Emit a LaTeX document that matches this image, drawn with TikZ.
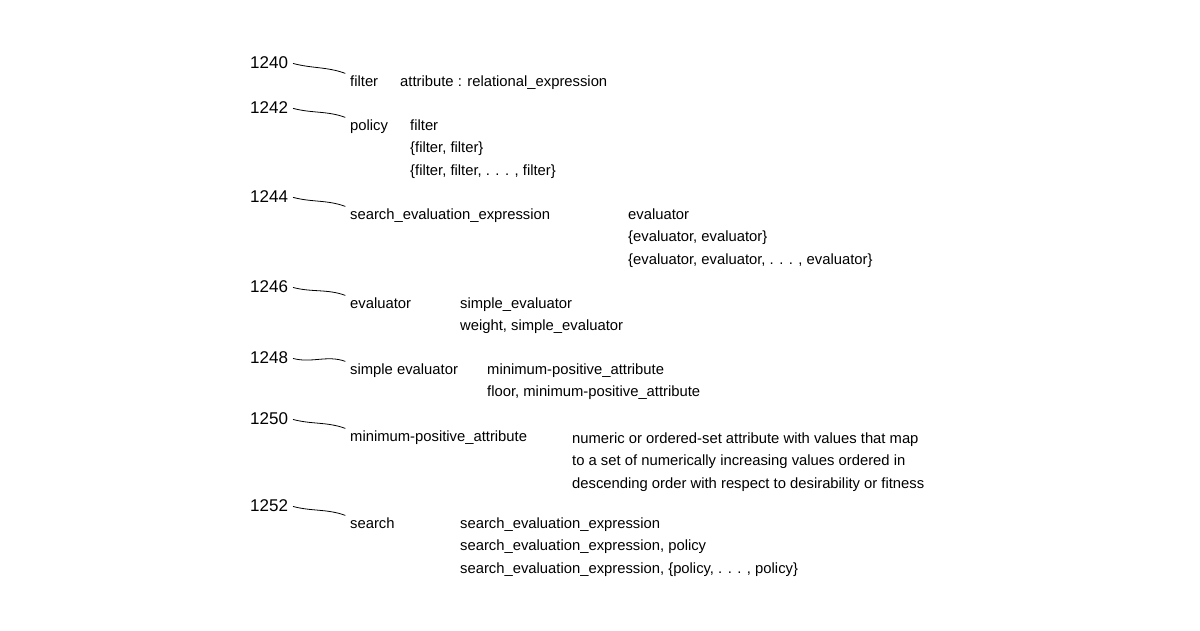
\documentclass[tikz,border=0pt]{standalone}
\usepackage{fontspec}
\setmainfont{Liberation Sans}
\usetikzlibrary{positioning}

\begin{document}
\begin{tikzpicture}[x=1pt, y=-1pt,
    num/.style={anchor=base west, inner sep=0pt, font=\fontsize{17}{20}\selectfont},
    term/.style={anchor=base west, inner sep=0pt, font=\fontsize{14.8}{22}\selectfont},
    rule/.style={anchor=north west, inner sep=0pt, align=left, font=\fontsize{14.8}{22.5}\selectfont},
    lead/.style={line width=0.8pt, shorten <=5pt, shorten >=5pt}
]
    \useasboundingbox (0,0) rectangle (1200,630);

    % reference numbers
    \node[num] (n1240) at (250,68) {1240};
    \node[num] (n1242) at (250,113) {1242};
    \node[num] (n1244) at (250,202) {1244};
    \node[num] (n1246) at (250,292) {1246};
    \node[num] (n1248) at (250,363) {1248};
    \node[num] (n1250) at (250,424) {1250};
    \node[num] (n1252) at (250,511) {1252};

    % terms
    \node[term] (t1240) at (350,86) {filter};
    \node[term] (t1242) at (350,130) {policy};
    \node[term] (t1244) at (350,219) {search\_evaluation\_expression};
    \node[term] (t1246) at (350,308) {evaluator};
    \node[term] (t1248) at (350,374) {simple evaluator};
    \node[term] (t1250) at (350,441) {minimum-positive\_attribute};
    \node[term] (t1252) at (350,528) {search};

    % definitions
    \node[rule] (r1240) at (t1240.north -| 400,0) {attribute : relational\_expression};
    \node[rule] (r1242) at (t1242.north -| 410,0) {filter\\\{filter, filter\}\\\{filter, filter, . . . , filter\}};
    \node[rule] (r1244) at (t1244.north -| 628,0) {evaluator\\\{evaluator, evaluator\}\\\{evaluator, evaluator, . . . , evaluator\}};
    \node[rule] (r1246) at (t1246.north -| 460,0) {simple\_evaluator\\weight, simple\_evaluator};
    \node[rule] (r1248) at (t1248.north -| 487,0) {minimum-positive\_attribute\\floor, minimum-positive\_attribute};
    \node[rule] (r1250) at ([yshift=-2pt]t1250.north -| 572,0) {numeric or ordered-set attribute with values that map\\to a set of numerically increasing values ordered in\\descending order with respect to desirability or fitness};
    \node[rule] (r1252) at (t1252.north -| 460,0) {search\_evaluation\_expression\\search\_evaluation\_expression, policy\\search\_evaluation\_expression, \{policy, . . . , policy\}};

    % leader lines
    \foreach \n in {1240,1242,1244,1246,1248,1250,1252}
        \draw[lead] (n\n.east) to[out=-15, in=160] (t\n.north west);
\end{tikzpicture}
\end{document}
